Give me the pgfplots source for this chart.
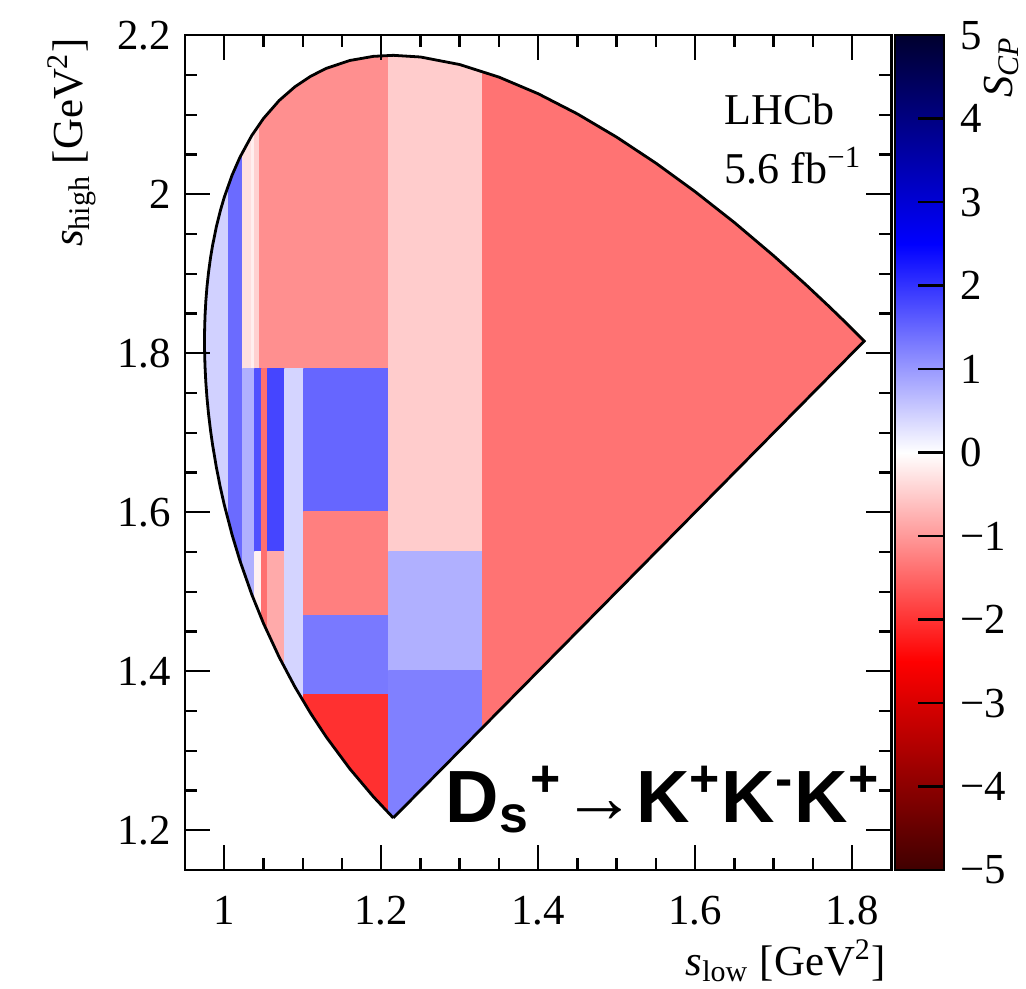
\documentclass[border=0pt]{standalone}
\usepackage{fontspec}
\setmainfont{Liberation Serif}
\newfontfamily\arialfont{Liberation Sans}
\usepackage{pgfplots}
\pgfplotsset{compat=1.18}
\usepgfplotslibrary{patchplots}
\begin{document}
\begin{tikzpicture}
\begin{axis}[
  at={(0,0)}, anchor=south west,
  width=176.6pt, height=208.7pt, scale only axis,
  xmin=0.95, xmax=1.85, ymin=1.15, ymax=2.2,
  xtick={1,1.2,1.4,1.6,1.8}, ytick={1.2,1.4,1.6,1.8,2,2.2},
  minor x tick num=3, minor y tick num=3,
  tick align=inside,
  major tick length=6.25pt, minor tick length=3pt,
  axis line style={line width=0.6pt},
  tick style={black, line width=0.6pt},
  axis on top,
  tick label style={font=\fontsize{10.7}{12}\selectfont},
  /pgf/number format/assume math mode=true,
  xticklabel style={yshift=-3pt},
  colormap={scp}{rgb=(0.25,0,0) rgb=(1,0,0) rgb=(1,1,1) rgb=(0,0,1) rgb=(0,0,0.18)},
  point meta min=-5, point meta max=5,
  colorbar shift/.style={},
  colorbar,
  colorbar style={
    at={(parent axis.north east)}, anchor=north west, xshift=0.9pt,
    scale only axis, width=12.25pt, height=208.7pt,
    ytick={-5,-4,-3,-2,-1,0,1,2,3,4,5},
    yticklabels={−5,−4,−3,−2,−1,0,1,2,3,4,5},
    yticklabel pos=right, ytick pos=right,
    tick align=inside, major tick length=6.5pt,
    tick style={black, line width=0.6pt},
    axis line style={line width=0.5pt},
    yticklabel style={font=\fontsize{10.7}{12}\selectfont, xshift=0.5pt},
  },
]
\addplot[patch, patch type=rectangle, shader=flat, point meta=explicit]
  table[x=x, y=y, meta=c] {
x y c
0.96 1.5 0.45
1.006 1.5 0.45
1.006 2.1 0.45
0.96 2.1 0.45
1.006 1.5 1.45
1.0242 1.5 1.45
1.0242 2.1 1.45
1.006 2.1 1.45
1.0242 1.78 -0.30
1.0353 1.78 -0.30
1.0353 2.15 -0.30
1.0242 2.15 -0.30
1.0353 1.78 -0.15
1.0395 1.78 -0.15
1.0395 2.15 -0.15
1.0353 2.15 -0.15
1.0395 1.78 -0.45
1.045 1.78 -0.45
1.045 2.15 -0.45
1.0395 2.15 -0.45
1.045 1.78 -1.10
1.2102 1.78 -1.10
1.2102 2.2 -1.10
1.045 2.2 -1.10
1.0242 1.40 0.78
1.0395 1.40 0.78
1.0395 1.78 0.78
1.0242 1.78 0.78
1.0395 1.55 1.71
1.048 1.55 1.71
1.048 1.78 1.71
1.0395 1.78 1.71
1.0395 1.40 -0.13
1.048 1.40 -0.13
1.048 1.55 -0.13
1.0395 1.55 -0.13
1.048 1.40 -1.40
1.0553 1.40 -1.40
1.0553 1.78 -1.40
1.048 1.78 -1.40
1.0553 1.55 1.83
1.0773 1.55 1.83
1.0773 1.78 1.83
1.0553 1.78 1.83
1.0553 1.30 -0.83
1.0773 1.30 -0.83
1.0773 1.55 -0.83
1.0553 1.55 -0.83
1.0773 1.30 0.42
1.1019 1.30 0.42
1.1019 1.78 0.42
1.0773 1.78 0.42
1.1019 1.60 1.50
1.2102 1.60 1.50
1.2102 1.78 1.50
1.1019 1.78 1.50
1.1019 1.47 -1.25
1.2102 1.47 -1.25
1.2102 1.60 -1.25
1.1019 1.60 -1.25
1.1019 1.37 1.32
1.2102 1.37 1.32
1.2102 1.47 1.32
1.1019 1.47 1.32
1.1019 1.20 -2.03
1.2102 1.20 -2.03
1.2102 1.37 -2.03
1.1019 1.37 -2.03
1.2102 1.55 -0.50
1.33 1.55 -0.50
1.33 2.2 -0.50
1.2102 2.2 -0.50
1.2102 1.40 0.78
1.33 1.40 0.78
1.33 1.55 0.78
1.2102 1.55 0.78
1.2102 1.20 1.25
1.33 1.20 1.25
1.33 1.40 1.25
1.2102 1.40 1.25
1.33 1.30 -1.37
1.85 1.30 -1.37
1.85 2.2 -1.37
1.33 2.2 -1.37
};
% white mask outside the Dalitz boundary
\addplot[fill=white, draw=none, even odd rule] coordinates {
(0.9,1.1) (1.9,1.1) (1.9,2.3) (0.9,2.3) (0.9,1.1)
(1.2154,1.2155) (1.19,1.2422) (1.16,1.2773) (1.13,1.3173) (1.11,1.3472)
(1.09,1.3804) (1.07,1.4177) (1.05,1.4602) (1.035,1.4968) (1.02,1.5390)
(1.01,1.5716) (1.00,1.6095) (0.995,1.6314) (0.99,1.6563) (0.985,1.6857)
(0.9825,1.7031) (0.98,1.7236) (0.978,1.7440) (0.9765,1.7641) (0.9755,1.7836)
(0.975,1.8009) (0.9749,1.8083) (0.97487,1.8153) (0.9749,1.8224) (0.975,1.8296)
(0.9755,1.8465) (0.9765,1.8650) (0.978,1.8836) (0.98,1.9019) (0.9825,1.9200)
(0.985,1.9349) (0.99,1.9593) (0.995,1.9792) (1.00,1.9961) (1.01,2.0240)
(1.02,2.0465) (1.035,2.0737) (1.05,2.0953) (1.07,2.1179) (1.09,2.1351)
(1.11,2.1483) (1.13,2.1583) (1.16,2.1682) (1.19,2.1734) (1.2154,2.1747)
(1.25,2.1726) (1.30,2.1631) (1.35,2.1473) (1.40,2.1264) (1.45,2.1010)
(1.50,2.0718) (1.55,2.0391) (1.60,2.0032) (1.65,1.9644) (1.70,1.9226)
(1.74,1.8872) (1.77,1.8594) (1.79,1.8403) (1.80,1.8305) (1.81,1.8207)
(1.8154,1.8153) (1.2154,1.2155) (0.9,1.1)
};
% boundary
\addplot[black, line width=0.7pt] coordinates {
(1.2154,1.2155) (1.19,1.2422) (1.16,1.2773) (1.13,1.3173) (1.11,1.3472)
(1.09,1.3804) (1.07,1.4177) (1.05,1.4602) (1.035,1.4968) (1.02,1.5390)
(1.01,1.5716) (1.00,1.6095) (0.995,1.6314) (0.99,1.6563) (0.985,1.6857)
(0.9825,1.7031) (0.98,1.7236) (0.978,1.7440) (0.9765,1.7641) (0.9755,1.7836)
(0.975,1.8009) (0.9749,1.8083) (0.97487,1.8153) (0.9749,1.8224) (0.975,1.8296)
(0.9755,1.8465) (0.9765,1.8650) (0.978,1.8836) (0.98,1.9019) (0.9825,1.9200)
(0.985,1.9349) (0.99,1.9593) (0.995,1.9792) (1.00,1.9961) (1.01,2.0240)
(1.02,2.0465) (1.035,2.0737) (1.05,2.0953) (1.07,2.1179) (1.09,2.1351)
(1.11,2.1483) (1.13,2.1583) (1.16,2.1682) (1.19,2.1734) (1.2154,2.1747)
(1.25,2.1726) (1.30,2.1631) (1.35,2.1473) (1.40,2.1264) (1.45,2.1010)
(1.50,2.0718) (1.55,2.0391) (1.60,2.0032) (1.65,1.9644) (1.70,1.9226)
(1.74,1.8872) (1.77,1.8594) (1.79,1.8403) (1.80,1.8305) (1.81,1.8207)
(1.8154,1.8153) (1.2154,1.2155)
};
\end{axis}
\node[anchor=base west, inner sep=0pt, font=\fontsize{11}{13}\selectfont] at (134.75pt,186.25pt) {LHCb};
\node[anchor=base west, inner sep=0pt, font=\fontsize{11}{13}\selectfont] at (134.75pt,171.75pt) {5.6 fb\textsuperscript{−1}};
\node[anchor=base west, inner sep=0pt, font=\arialfont\bfseries\fontsize{18.5}{20}\selectfont] at (65pt,12pt) {D\textsubscript{s}\textsuperscript{+}→K\textsuperscript{+}K\textsuperscript{-}K\textsuperscript{+}};
\node[rotate=90, anchor=base east, inner sep=0pt, font=\fontsize{10.7}{12}\selectfont] at (-25.5pt,208.25pt) {\textit{s}\textsubscript{high} [GeV\textsuperscript{2}]};
\node[anchor=base east, inner sep=0pt, font=\fontsize{10.7}{12}\selectfont] at (175.5pt,-26.25pt) {\textit{s}\textsubscript{low} [GeV\textsuperscript{2}]};
\node[rotate=90, anchor=base east, inner sep=0pt, font=\fontsize{10.7}{12}\selectfont] at (206.75pt,208.75pt) {\textit{S}\textsubscript{\textit{CP}}};
\pgfresetboundingbox
\path[use as bounding box] (-46.25pt,-29.5pt) rectangle (210.25pt,217.5pt);
\end{tikzpicture}
\end{document}
